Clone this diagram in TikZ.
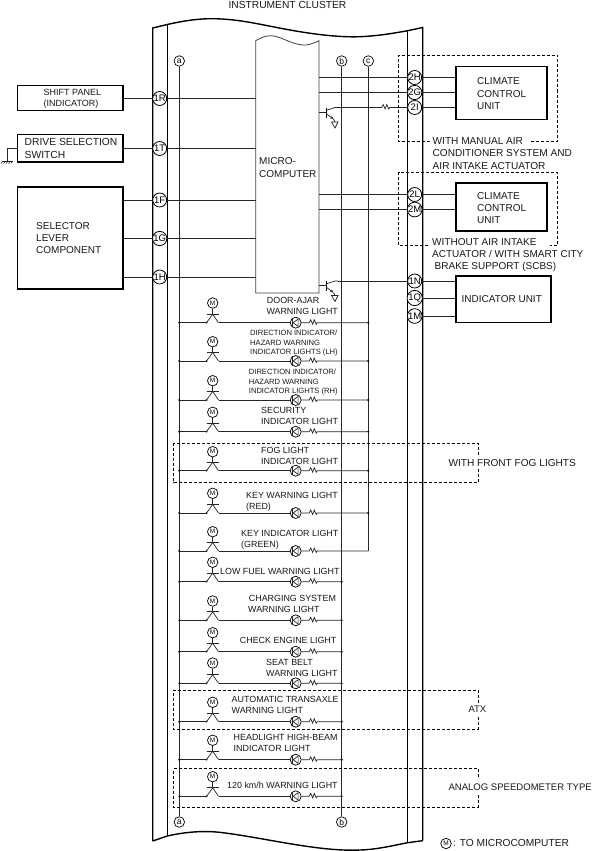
\documentclass[tikz,border=0pt]{standalone}
\usepackage{fontspec}
\setmainfont{Liberation Sans}
\usetikzlibrary{calc,arrows.meta}
\newcount\lblc
\newcommand\lbl[4]{\global\advance\lblc by 1
  \node[lab,font=\fontsize{#1}{#1}\selectfont] (t\the\lblc) at (#2,#3+3.2) {#4};}
\newcommand\lightrow[5]{% name, y, M y, end junction x, dot
  \coordinate (ra#1) at (179.3,#2);
  \coordinate (re#1) at (#4,#2);
  \node[sig] (m#1) at (212.7,#3) {M};
  \coordinate (bar#1) at (212.7,#2-8.5);
  \coordinate (sl#1) at (206.5,#2);
  \coordinate (sr#1) at (218.5,#2);
  \node[lamp] (l#1) at (295.7,#2) {};
  \draw[wire] (m#1) -- (bar#1);
  \draw[wire] ($(bar#1)+(-6,0)$) -- ($(bar#1)+(6,0)$);
  \draw[wire] (bar#1) -- (sl#1);
  \draw[wire] (bar#1) -- (sr#1);
  \fill (sl#1) circle (1);
  \draw[wire] (ra#1) -- (sl#1);
  \draw[wire] (sr#1) -- (l#1);
  \draw[wire] (l#1) -- ($(l#1)+(13.5,0)$) -- ++(1.5,-3) -- ++(2,4.5) -- ++(1.5,-4.5) -- ++(2,4.5) -- ++(1,-1.5) -- (re#1);
  \draw[wire,fill=black] ($(l#1)+(-3.2,-4.6)$) -- ($(l#1)+(-3.2,4.6)$);
  \draw[wire] ($(l#1)+(-2.6,0)$) -- ($(l#1)+(2.4,-3.6)$) -- ($(l#1)+(2.4,3.6)$) -- cycle;
  \fill (ra#1) circle (1.1);
  #5
}
\newcommand\tran[2]{% x of base bar, y of collector row
  \begin{scope}[shift={(#1,#2)}]
    \draw[line width=1] (0,0) -- (0,10);
    \draw[wire] (-7.3,4.7) -- (0,4.7);
    \draw[wire] (0,3) -- (9,0) -- (12,0);
    \draw[wire,-{Stealth[length=3.5pt,width=3pt]}] (0,6) -- (7.5,11.5);
    \draw[wire] (7.5,11.5) -- (9,14.5);
    \draw[wire] (5.5,14.5) -- (12,14.5) -- (9,20.5) -- cycle;
  \end{scope}}
\tikzset{
  wire/.style={line width=0.7pt,black!85},
  frame/.style={line width=1.4pt,black},
  unit/.style={draw=black,line width=1.3pt,fill=white,inner sep=0pt},
  pin/.style={circle,draw=black,line width=0.8pt,fill=white,inner sep=0pt,minimum size=14pt,font=\fontsize{9.5}{9.5}\selectfont},
  sig/.style={circle,draw=black,line width=0.7pt,fill=white,inner sep=0pt,minimum size=10.5pt,font=\fontsize{6.5}{6.5}\selectfont},
  lamp/.style={circle,draw=black,line width=0.7pt,fill=white,inner sep=0pt,minimum size=11pt},
  tag/.style={circle,draw=black,line width=0.7pt,fill=white,inner sep=0pt,minimum size=10.5pt,font=\fontsize{8.5}{8.5}\selectfont},
  lab/.style={anchor=base west,inner sep=0pt,text=black!90},
  optbox/.style={dashed,dash pattern=on 3pt off 2pt,line width=0.6pt,black},
}
\begin{document}
\begin{tikzpicture}[x=1pt,y=-1pt]
\useasboundingbox (0,0) rectangle (607,851);
\fill[white] (0,0) rectangle (607,851);

% cluster frame
\draw[frame] (152.7,841) -- (152.7,28) -- (167.3,24.5) .. controls (185,20.5) and (200,18.5) .. (213,18.7) .. controls (240,19) and (262,25) .. (290,30) .. controls (315,34.5) and (340,37.5) .. (360,36.7) .. controls (378,36) and (395,33) .. (407.7,30.7) -- (422.7,27.5) -- (422.7,840.7);
\draw[frame] (167.3,24.5) -- (167.3,836);
\draw[frame] (407.7,30.7) -- (407.7,842.7);
\draw[frame] (152.7,841) -- (167.3,836) .. controls (185,832) and (205,830) .. (225,833) .. controls (265,838) and (320,852) .. (360,850) .. controls (378,849.5) and (395,845) .. (407.7,842.7) -- (422.7,840.7);

% microcomputer
\draw[line width=0.8pt,black!75] (319,40.7) .. controls (312,44) and (307,45.5) .. (303,45) .. controls (290,44) and (280,35.5) .. (270,35.7) .. controls (264,36) and (260,38.5) .. (255.7,40.7) -- (255.7,293) -- (319,293) -- cycle;
\coordinate (mc1R) at (255.7,98.5);
\coordinate (mc1T) at (255.7,148.5);
\coordinate (mc1F) at (255.7,200);
\coordinate (mc1G) at (255.7,238.5);
\coordinate (mc1H) at (255.7,277);
\coordinate (mc2H) at (319,77.5);
\coordinate (mc2G) at (319,92.5);
\coordinate (mc2L) at (319,194.5);
\coordinate (mc2M) at (319,209.5);

% left units
\node[unit,minimum width=105.5pt,minimum height=25pt] (shift) at (70.2,98) {};
\node[unit,minimum width=105.5pt,minimum height=27.5pt] (drive) at (70.2,148.2) {};
\node[unit,minimum width=105.5pt,minimum height=102pt] (selector) at (70.2,238) {};
% right units
\node[unit,minimum width=91pt,minimum height=53pt] (cc1) at (501.5,93) {};
\node[unit,minimum width=91pt,minimum height=48pt] (cc2) at (501.5,207) {};
\node[unit,minimum width=95pt,minimum height=46.5pt] (ind) at (503.5,299.2) {};

% buses
\node[tag] (atop) at (179.3,61) {a};
\node[tag] (btop) at (341.7,61) {b};
\node[tag] (ctop) at (368.3,61) {c};
\node[tag] (abot) at (179.3,822) {a};
\node[tag] (bbot) at (341.7,822) {b};
\coordinate (cend) at (368.3,551);
\draw[wire] (atop) -- (abot);
\draw[wire] (btop) -- (bbot);
\draw[wire] (ctop) -- (cend);

% pins, left
\foreach \n/\t/\y in {1R/1R/98.5,1T/1T/148.5,1F/1F/200,1G/1G/238.5,1H/1H/277}{
  \node[pin] (p\n) at (159.7,\y) {\t};
}
\draw[wire] (shift.east |- p1R) -- (p1R);
\draw[wire] (drive.east |- p1T) -- (p1T);
\draw[wire] (selector.east |- p1F) -- (p1F);
\draw[wire] (selector.east |- p1G) -- (p1G);
\draw[wire] (selector.east |- p1H) -- (p1H);
\foreach \n in {1R,1T,1F,1G,1H}{ \draw[wire] (p\n) -- (mc\n); }

% ground
\coordinate (gnd) at (7,161);
\draw[wire] (drive.west |- p1T) -- (gnd |- p1T) -- (gnd);
\draw[wire] (1.5,161) -- (12.5,161);
\foreach \x in {3,5.5,8,10.5,13}{ \draw[line width=0.4pt] (\x,161) -- (\x-2,163.5); }

% pins, right
\foreach \n/\y in {2H/77.5,2G/92.5,2I/107.5,2L/194.5,2M/209.5,1N/281,1Q/298,1M/316}{
  \node[pin] (p\n) at (414.7,\y) {\n};
}
\draw[wire] (mc2H) -- (p2H); \draw[wire] (p2H) -- (cc1.west |- p2H);
\draw[wire] (mc2G) -- (p2G); \draw[wire] (p2G) -- (cc1.west |- p2G);
\draw[wire] (p2I) -- (cc1.west |- p2I);
\draw[wire] (mc2L) -- (p2L); \draw[wire] (p2L) -- (cc2.west |- p2L);
\draw[wire] (mc2M) -- (p2M); \draw[wire] (p2M) -- (cc2.west |- p2M);
\draw[wire] (p1N) -- (ind.west |- p1N);
\draw[wire] (p1Q) -- (ind.west |- p1Q);
\draw[wire] (p1M) -- (ind.west |- p1M);

% transistors
\tran{326}{107.5}
\coordinate (rs) at (381.7,107.5);
\draw[wire] (338,107.5) -- (rs) -- ++(1.5,-3) -- ++(2,4.5) -- ++(1.5,-4.5) -- ++(2,4.5) -- ++(1,-1.5) -- (p2I);
\tran{326}{281}
\draw[wire] (338,281) -- (p1N);

% lights
\lightrow{1}{322.7}{303}{368.3}{\fill (re1) circle (1.1);}
\lightrow{2}{361}{341.7}{368.3}{\fill (re2) circle (1.1);}
\lightrow{3}{400}{380.7}{368.3}{\fill (re3) circle (1.1);}
\lightrow{4}{431.7}{412.3}{368.3}{\fill (re4) circle (1.1);}
\lightrow{5}{470.7}{451.7}{368.3}{\fill (re5) circle (1.1);}
\lightrow{6}{513}{493.3}{368.3}{\fill (re6) circle (1.1);}
\lightrow{7}{551}{531.7}{368.3}{}
\lightrow{8}{581.7}{562.3}{341.7}{\fill (re8) circle (1.1);}
\lightrow{9}{620.3}{601}{341.7}{\fill (re9) circle (1.1);}
\lightrow{10}{651.7}{632.7}{341.7}{\fill (re10) circle (1.1);}
\lightrow{11}{683.3}{663}{341.7}{\fill (re11) circle (1.1);}
\lightrow{12}{721.7}{702.3}{341.7}{\fill (re12) circle (1.1);}
\lightrow{13}{759.7}{740.3}{341.7}{\fill (re13) circle (1.1);}
\lightrow{14}{796.3}{776.7}{341.7}{\fill (re14) circle (1.1);}

% option frames
\draw[optbox] (430,141) -- (398.5,141) -- (398.5,55.5) -- (557.5,55.5) -- (557.5,141) -- (530,141);
\draw[optbox] (428,245.5) -- (398.5,245.5) -- (398.5,172.5) -- (557.5,172.5) -- (557.5,245.5) -- (550,245.5);
\draw[optbox] (478,455) -- (478,443.5) -- (173.5,443.5) -- (173.5,482.5) -- (478,482.5) -- (478,468);
\draw[optbox] (478,702.7) -- (478,690) -- (173.5,690) -- (173.5,729) -- (478,729) -- (478,717);
\draw[optbox] (478,777) -- (478,768.5) -- (173.5,768.5) -- (173.5,807) -- (478,807) -- (478,795);

% texts
\lbl{10.25}{228.3}{5.7}{INSTRUMENT CLUSTER}
\lbl{9}{43.5}{92.5}{SHIFT PANEL}
\lbl{9}{43.5}{103.5}{(INDICATOR)}
\lbl{10.3}{24.5}{142.5}{DRIVE SELECTION}
\lbl{10.3}{24.5}{155}{SWITCH}
\lbl{10}{36}{226}{SELECTOR}
\lbl{10}{36}{238.5}{LEVER}
\lbl{10}{36}{250.5}{COMPONENT}
\lbl{10}{259}{161.5}{MICRO-}
\lbl{10}{259}{174}{COMPUTER}
\lbl{10}{477}{81.5}{CLIMATE}
\lbl{10}{477}{94}{CONTROL}
\lbl{10}{477}{106}{UNIT}
\lbl{10}{477}{196}{CLIMATE}
\lbl{10}{477}{208.5}{CONTROL}
\lbl{10}{477}{220.5}{UNIT}
\lbl{10}{461.5}{299}{INDICATOR UNIT}
\lbl{10.1}{432.5}{141.5}{WITH MANUAL AIR}
\lbl{10.1}{432.5}{153.5}{CONDITIONER SYSTEM AND}
\lbl{10.1}{432.5}{166}{AIR INTAKE ACTUATOR}
\lbl{10}{432}{242}{WITHOUT AIR INTAKE}
\lbl{10}{432}{254}{ACTUATOR / WITH SMART CITY}
\lbl{10}{434.5}{266.5}{BRAKE SUPPORT (SCBS)}
\lbl{8.9}{266.7}{300}{DOOR-AJAR}
\lbl{8.9}{266.3}{311.5}{WARNING LIGHT}
\lbl{7.6}{250}{332.5}{DIRECTION INDICATOR/}
\lbl{7.6}{250}{342}{HAZARD WARNING}
\lbl{7.6}{250}{351}{INDICATOR LIGHTS (LH)}
\lbl{7.6}{248.7}{371}{DIRECTION INDICATOR/}
\lbl{7.6}{248.7}{381}{HAZARD WARNING}
\lbl{7.6}{248.7}{390}{INDICATOR LIGHTS (RH)}
\lbl{8.9}{261}{410.7}{SECURITY}
\lbl{8.9}{261}{421.5}{INDICATOR LIGHT}
\lbl{8.9}{261}{450}{FOG LIGHT}
\lbl{8.9}{261}{461}{INDICATOR LIGHT}
\lbl{8.9}{246}{495}{KEY WARNING LIGHT}
\lbl{8.9}{246}{506}{(RED)}
\lbl{8.9}{241}{533}{KEY INDICATOR LIGHT}
\lbl{8.9}{241}{544}{(GREEN)}
\lbl{8.9}{220}{571.5}{LOW FUEL WARNING LIGHT}
\lbl{8.9}{248.7}{598}{CHARGING SYSTEM}
\lbl{8.9}{248}{609}{WARNING LIGHT}
\lbl{8.9}{239.7}{640.7}{CHECK ENGINE LIGHT}
\lbl{8.9}{266}{662}{SEAT BELT}
\lbl{8.9}{266}{673}{WARNING LIGHT}
\lbl{8.9}{231.5}{699.5}{AUTOMATIC TRANSAXLE}
\lbl{8.9}{231.5}{710}{WARNING LIGHT}
\lbl{8.9}{233.5}{737}{HEADLIGHT HIGH-BEAM}
\lbl{8.9}{233.5}{748}{INDICATOR LIGHT}
\lbl{8.9}{227}{785}{120 km/h WARNING LIGHT}
\lbl{10.1}{448.3}{463}{WITH FRONT FOG LIGHTS}
\lbl{9.5}{468.3}{709.5}{ATX}
\lbl{9.55}{448.3}{787.7}{ANALOG SPEEDOMETER TYPE}
\node[sig] (mkey) at (446,843.5) {M};
\lbl{10.2}{453}{843.5}{: TO MICROCOMPUTER}
\end{tikzpicture}
\end{document}
